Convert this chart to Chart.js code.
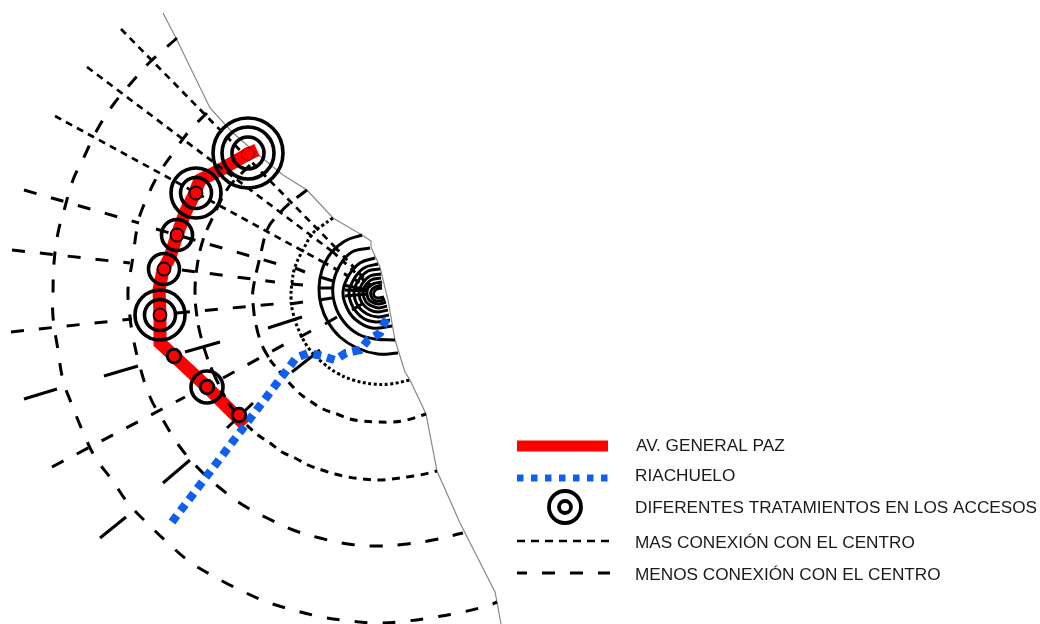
<!DOCTYPE html>
<html>
<head>
<meta charset="utf-8">
<style>
html,body{margin:0;padding:0;background:#fff;overflow:hidden}
#box{position:absolute;left:0;top:0;width:1040px;height:624px}
</style>
<script src="https://cdn.jsdelivr.net/npm/chart.js@4"></script>
</head>
<body>
<div id="box"><canvas id="c" width="1040" height="624"></canvas></div>
<script>
const coast = [[163,13],[176,38],[210,108],[233,133],[255,152],[283,175],[307,190],[333,218],[362,235],[371,241],[371,247],[380,267],[388,300],[395,340],[405,372],[410,380],[426,414],[437,471],[460,523],[495,592],[497,602],[501,624]];

const avenue = [[257,150],[248,154],[220,170],[200,180],[193,197],[185,213],[177,235],[170,257],[163,270],[159,290],[160,315],[160,343],[174,356],[207,387],[245,425]];
const riachuelo = [[172,522],[296,358],[308,353],[322,356],[335,360],[346,353],[360,350],[368,340],[380,333],[385,322],[389,315]];

const ringCentres = [[248,153],[248,153],[248,153],[196,193],[196,193],[177,235],[164,269],[160,315],[160,315],[207,387]];
const ringSizes = [35,26,16,25,15.5,15.5,15.5,25,15.5,16];
const dotCentres = [[248,154],[196,193],[177,235],[164,269],[160,315],[174,356],[207,387],[239,415]];
const dotSizes = [6.5,6.5,6.5,6.5,6.5,6.8,6.8,6.8];
const dotEdges = [0.5,1.8,1.8,1.8,1.8,2.8,2.8,2.8];

const arcSolid = [
 [[362,235],[345,241],[331,253],[322,270],[319,288],[321,305],[328,322],[340,337],[357,348],[378,354],[398,353]],
 [[370,248],[352,252],[340,265],[333,285],[335,305],[344,322],[358,334],[375,339],[395,340]],
 [[375,258],[360,263],[349,275],[343,292],[347,308],[356,320],[372,328],[392,326]],
 [[378,264],[364,268],[354,279],[349,293],[353,307],[363,318],[376,322],[390,320]],
 [[380,269],[368,271],[358,281],[354,293],[358,306],[367,314],[378,317],[389,315]],
 [[381,274],[370,276],[362,284],[359,293],[362,303],[370,310],[378,312],[388,310]],
 [[381,278],[371,280],[365,286],[363,293],[366,302],[372,306],[379,308],[387,306]],
 [[382,282],[373,284],[368,288],[367,294],[369,300],[374,303],[380,304],[386,302]],
 [[382,285],[375,287],[371,291],[371,296],[374,300],[380,301],[385,299]],
 [[382,288],[377,289],[374,292],[374,296],[378,298],[384,297]]
];
const arcDotted = [[333,218],[323,225],[313,233],[303,250],[295,267],[292,283],[291,297],[293,313],[300,333],[310,350],[323,363],[337,373],[353,380],[373,384],[390,384],[410,380]];
const arcNearUpper = [[307,190],[290,203],[278,215],[268,228],[260,257],[253,290],[253,303],[256,325],[262,345],[270,360]];
const arcNearLower = [[270,360],[280,372],[298,392],[310,401],[323,409],[337,414],[350,419],[363,421],[378,422],[392,422],[407,420],[426,414]];
const arcMidUpper = [[250,165],[240,175],[228,188],[213,217],[203,240],[197,267],[195,293],[197,317],[200,333],[207,357],[215,377]];
const arcMidLower = [[215,377],[228,402],[243,421],[258,435],[270,443],[282,452],[295,458],[308,465],[322,470],[335,474],[348,477],[363,479],[378,480],[392,479],[407,477],[420,475],[437,471]];
const arcFar = [[207,113],[190,130],[173,153],[157,177],[143,207],[138,223],[132,263],[128,290],[130,317],[133,337],[140,367],[150,397],[163,420],[180,447],[200,470],[220,488],[243,505],[267,518],[293,530],[320,538],[348,544],[377,546],[407,544],[433,540],[463,533]];
const arcOuter = [[177,38],[150,62],[132,82],[113,105],[97,130],[85,155],[73,180],[65,207],[58,233],[54,263],[53,293],[53,317],[58,350],[63,380],[72,405],[83,432],[95,457],[112,480],[128,503],[147,523],[168,543],[190,562],[215,577],[240,590],[267,602],[293,610],[322,617],[350,621],[377,623],[407,621],[435,617],[463,612],[490,605],[497,602]];

const radialsMore = [
 [[121,29],[335,247]],
 [[87,67],[333,252]],
 [[55,116],[323,262]]
];
const radialsMoreInner = [
 [[335,247],[372,287]],
 [[333,252],[370,286]],
 [[323,262],[368,287]]
];
const radialsLess = [
 [[24,190],[139,223]],
 [[156,229],[278,264]],
 [[12,250],[130,263]],
 [[182,270],[275,282]],
 [[11,332],[132,319]],
 [[177,313],[275,304]],
 [[52,467],[185,397]],
 [[223,378],[287,343]]
];
const radialTicks = [
 [[295,268],[305,272]],[[320,277],[333,281]],[[343,285],[368,290]],
 [[291,284],[303,285]],[[320,288],[333,288]],[[345,290],[368,291]],
 [[290,304],[303,302]],[[319,300],[332,298]],[[345,296],[368,294]],
 [[24,399],[57,389]],[[104,376],[138,366]],[[185,352],[220,342]],[[268,328],[302,317]],[[352,310],[362,304]],
 [[300,337],[311,331]],[[325,324],[337,317]],
 [[100,538],[126,517]],[[163,483],[190,460]],[[227,428],[253,403]],[[292,372],[320,350]]
];

const legendRed = [[517,446],[608,446]];
const legendBlue = [[517,478],[608,478]];
const legendRing = [[565,507],[565,507]];
const legendRingSizes = [16,6];
const legendMore = [[517,541],[610,541]];
const legendLess = [[517,573],[610,573]];
const legendLabels = ["AV. GENERAL PAZ","RIACHUELO","DIFERENTES TRATAMIENTOS EN LOS ACCESOS","MAS CONEXIÓN CON EL CENTRO","MENOS CONEXIÓN CON EL CENTRO"];
const legendLabelPos = [[636,446],[635,476],[635,508],[635,543],[635,575]];

const P = a => a.map(([x,y]) => ({x,y}));
const line = (data, color, width, dash, tension, offset) => ({
  type:'line', data:P(data), borderColor:color, borderWidth:width, borderDash:dash||[],
  borderDashOffset:offset||0,
  tension:tension||0, pointRadius:0, fill:false, clip:false,
  borderCapStyle:'butt', borderJoinStyle:'miter', showLine:true
});
const marks = (data, radii, edges, fillCol) => ({
  type:'scatter', data:P(data), showLine:false, clip:false,
  pointStyle:'circle', pointRadius:radii, pointHoverRadius:radii,
  pointBorderWidth:edges, pointBorderColor:'#000', pointBackgroundColor:fillCol
});

const K = '#000', BLUE = '#1060f0', RED = '#ff0000';
const datasets = [];
datasets.push(marks(dotCentres, dotSizes, dotEdges, RED));
datasets.push(marks(ringCentres, ringSizes, 3.6, 'rgba(0,0,0,0)'));
datasets.push(marks(legendRing, legendRingSizes, 3.8, 'rgba(0,0,0,0)'));
datasets.push(line(riachuelo, BLUE, 8.3, [8,6]));
datasets.push(line(legendBlue, BLUE, 7, [6.5,7.5]));
datasets.push(line(legendRed, RED, 11));
datasets.push(line(legendMore, K, 2.6, [8,6]));
datasets.push(line(legendLess, K, 3, [13,15], 0, 3));
radialTicks.forEach(s => datasets.push(line(s, K, 3)));
radialsMore.forEach(s => datasets.push(line(s, K, 2.7, [7,5.5])));
radialsMoreInner.forEach(s => datasets.push(line(s, K, 3, [6,6])));
radialsLess.forEach(s => datasets.push(line(s, K, 3, [13,15])));
arcSolid.forEach(s => datasets.push(line(s, K, 3, [], 0.4)));
datasets.push(line(arcDotted, K, 3, [3,2.5], 0.4));
datasets.push(line(arcNearUpper, K, 3, [13,9], 0.4));
datasets.push(line(arcNearLower, K, 3, [8,6.5], 0.4));
datasets.push(line(arcMidUpper, K, 3, [13,9], 0.4));
datasets.push(line(arcMidLower, K, 3, [8,6.5], 0.4));
datasets.push(line(arcFar, K, 3, [13,15], 0.4));
datasets.push(line(arcOuter, K, 3, [13,15], 0.4));
datasets.push(line(avenue, RED, 13));
datasets.push(line(coast, '#888888', 1.2));

const legendText = {
  id:'legendText',
  afterDraw(chart){
    const {ctx, scales:{x,y}} = chart;
    ctx.save();
    ctx.font = "17.2px 'Liberation Sans', Arial, sans-serif";
    ctx.fillStyle = '#1a1a1a';
    ctx.textBaseline = 'middle';
    ctx.textAlign = 'left';
    legendLabels.forEach((t,i) => ctx.fillText(t, x.getPixelForValue(legendLabelPos[i][0]), y.getPixelForValue(legendLabelPos[i][1])));
    ctx.restore();
  }
};

new Chart(document.getElementById('c'), {
  type:'scatter',
  data:{datasets},
  options:{
    responsive:false, animation:false, devicePixelRatio:1,
    layout:{padding:0, autoPadding:false},
    plugins:{legend:{display:false},tooltip:{enabled:false}},
    events:[],
    scales:{
      x:{type:'linear',min:0,max:1040,display:false},
      y:{type:'linear',min:0,max:624,reverse:true,display:false}
    }
  },
  plugins:[legendText]
});
</script>
</body>
</html>
